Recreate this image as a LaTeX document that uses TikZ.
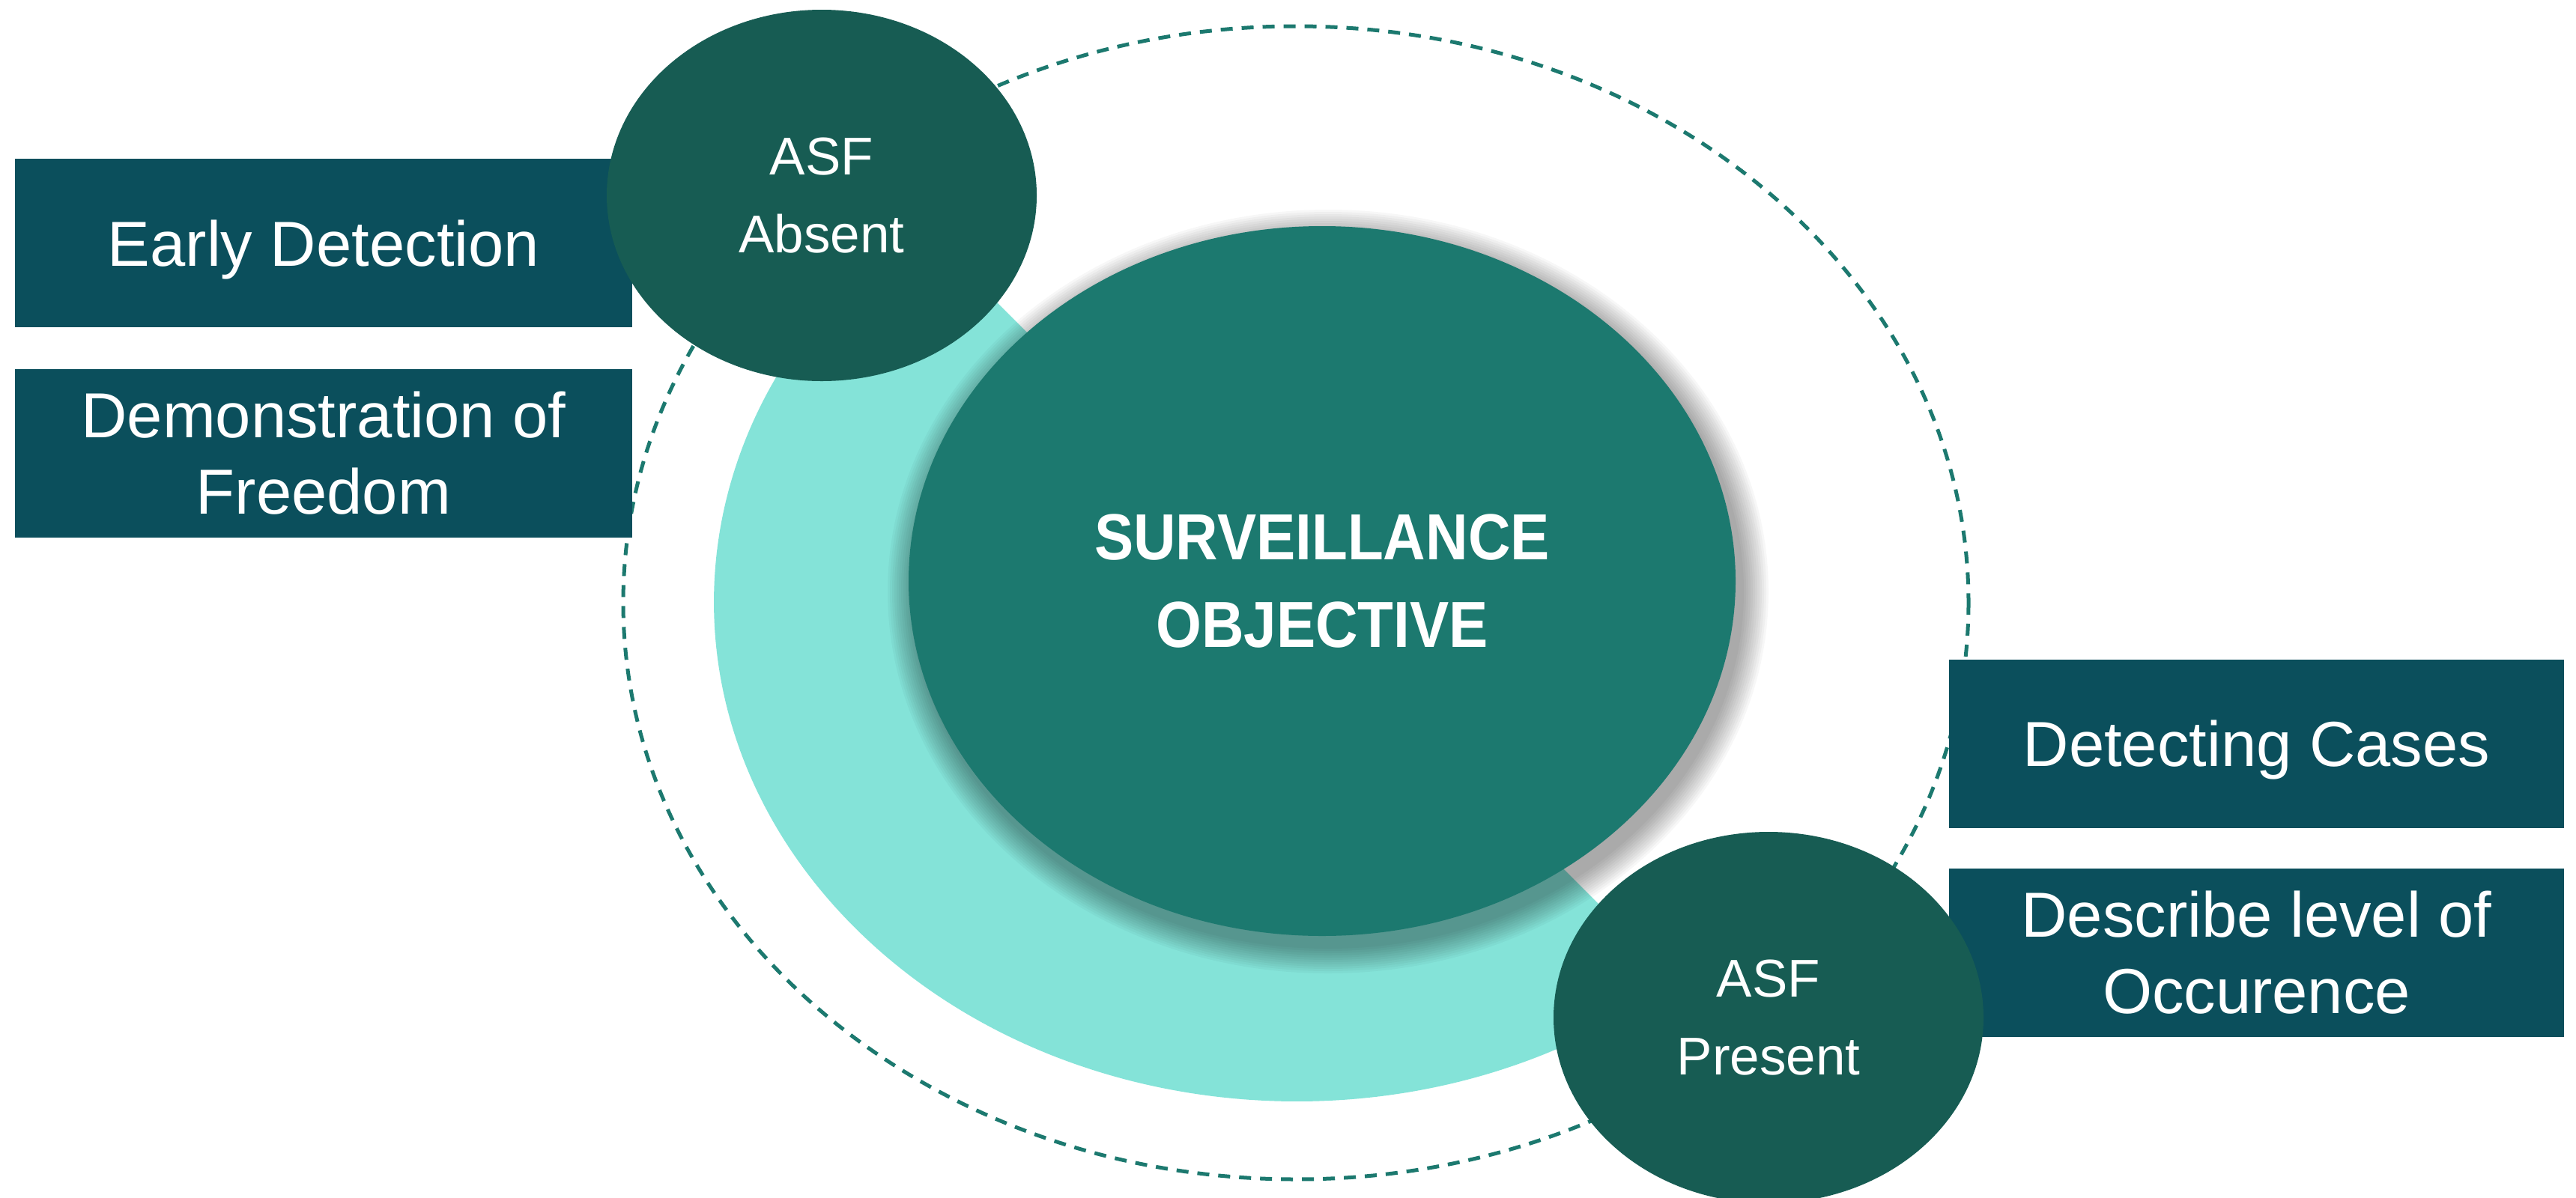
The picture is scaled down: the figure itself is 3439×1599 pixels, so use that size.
\documentclass[tikz,border=0pt]{standalone}
\usepackage{fontspec}
\setmainfont{Liberation Sans}
\newfontfamily\titlefont{Liberation Sans}[FakeStretch=0.9]
\usetikzlibrary{shapes.geometric}
\definecolor{boxc}{HTML}{0B4F5C}
\definecolor{asfc}{HTML}{175C53}
\definecolor{mainc}{HTML}{1C796F}
\definecolor{lightc}{HTML}{84E3D8}
\definecolor{dashc}{HTML}{1C796F}
\begin{document}
\begin{tikzpicture}[x=1pt,y=-1pt,
  objbox/.style={fill=boxc, text=white, minimum width=824pt, minimum height=225pt,
    inner sep=0pt, align=center, font=\fontsize{85}{102}\selectfont, text depth=0pt},
  asf/.style={ellipse, fill=asfc, text=white, minimum width=574pt, minimum height=496pt,
    inner sep=0pt, align=center, font=\fontsize{71}{104}\selectfont, text depth=0pt},
  mainobj/.style={ellipse, fill=mainc, text=white, minimum width=1104pt, minimum height=948pt,
    inner sep=0pt, align=center, font=\titlefont\bfseries\fontsize{87}{117}\selectfont, text depth=0pt},
  orbit/.style={dashc, line width=5pt, dash pattern=on 16pt off 12pt},
  shadowring/.style={black, opacity=0.03}
  ]
\useasboundingbox (0,0) rectangle (3439,1599);
\fill[white] (0,0) rectangle (3439,1599);
% dashed orbit
\draw[orbit] (1730,805) ellipse [x radius=898, y radius=770];
% light half ellipse
\fill[lightc] (2237.3,1310.4) arc [start angle=49.4, end angle=229.4, x radius=778, y radius=667] -- cycle;
% soft shadow of central ellipse
\foreach \i in {1,...,12}
  \fill[shadowring] (1773,790) ellipse [x radius={552+3*\i}, y radius={474+3*\i}];
\node[mainobj] (main) at (1765,776) {SURVEILLANCE\\OBJECTIVE};
% boxes
\node[objbox] (early) at (432,324.5) {Early Detection};
\node[objbox] (demo) at (432,605) {Demonstration of\\Freedom};
\node[objbox, minimum width=821pt] (detect) at (3012.5,993) {Detecting Cases};
\node[objbox, minimum width=821pt] (describe) at (3012.5,1272) {Describe level of\\Occurence};
% ASF ellipses
\node[asf] (absent) at (1097,261) {ASF\\Absent};
\node[asf] (present) at (2361,1359) {ASF\\Present};
\end{tikzpicture}
\end{document}
